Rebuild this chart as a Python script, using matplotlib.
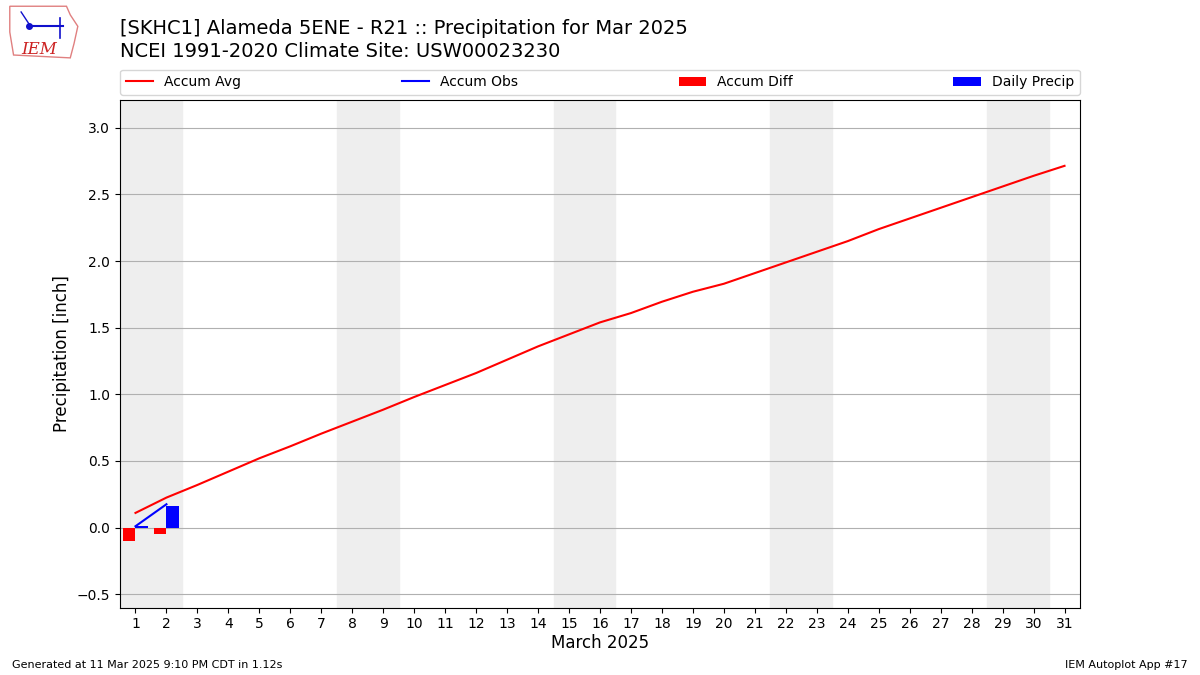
import matplotlib
matplotlib.use("Agg")
import matplotlib.pyplot as plt
from matplotlib.patches import Polygon

# ---------- data ----------
days = list(range(1, 32))
accum_avg = [0.11, 0.225, 0.32, 0.42, 0.52, 0.61, 0.705, 0.795, 0.885, 0.98,
             1.07, 1.16, 1.26, 1.36, 1.45, 1.54, 1.61, 1.695, 1.77, 1.83,
             1.91, 1.99, 2.07, 2.15, 2.24, 2.32, 2.40, 2.48, 2.56, 2.64, 2.715]
obs_days = [1, 2]
daily_precip = [0.01, 0.165]
accum_obs = [0.01, 0.175]
accum_diff = [-0.10, -0.045]
weekends = [(1, 2), (8, 9), (15, 16), (22, 23), (29, 30)]

fig = plt.figure(figsize=(12, 6.75), dpi=100)
ax = fig.add_axes([0.1, 0.1, 0.8, 0.752])

for a, b in weekends:
    ax.axvspan(a - 0.5, b + 0.5, color="#EEEEEE", zorder=0)

ax.plot(days, accum_avg, color="r", label="Accum Avg", zorder=3)
ax.plot(obs_days, accum_obs, color="b", label="Accum Obs", zorder=3)
ax.bar([d - 0.4 for d in obs_days], accum_diff, width=0.4, align="edge",
       color="r", label="Accum Diff", zorder=2)
ax.bar(obs_days, daily_precip, width=0.4, align="edge", color="b",
       label="Daily Precip", zorder=2)

ax.set_xlim(0.5, 31.5)
ax.set_ylim(-0.6, 3.21)
ax.set_xticks(days)
ax.set_yticks([-0.5, 0, 0.5, 1.0, 1.5, 2.0, 2.5, 3.0])
ax.yaxis.grid(True, color="#b0b0b0")
ax.set_axisbelow(True)
ax.set_xlabel("March 2025", fontsize=12, labelpad=2)
ax.set_ylabel("Precipitation [inch]", fontsize=12)

ax.legend(loc="lower left", bbox_to_anchor=(0, 1.01, 1, 0.05), ncol=4,
          mode="expand", borderaxespad=0, fontsize=10)

fig.text(0.1, 0.943, "[SKHC1] Alameda 5ENE - R21 :: Precipitation for Mar 2025",
         fontsize=14, va="bottom")
fig.text(0.1, 0.91, "NCEI 1991-2020 Climate Site: USW00023230",
         fontsize=14, va="bottom")

# rough IEM logo
logo = fig.add_axes([0.005, 0.91, 0.063, 0.085])
logo.axis("off")
logo.set_xlim(0, 1)
logo.set_ylim(0, 1)
logo.add_patch(Polygon([[0.05, 0.95], [0.8, 0.95], [0.85, 0.8], [0.95, 0.6],
                        [0.9, 0.3], [0.85, 0.05], [0.1, 0.1], [0.05, 0.5]],
                       closed=True, fill=False, edgecolor="#e08080", lw=1))
logo.text(0.2, 0.12, "IEM", color="#cc2222", fontsize=12, style="italic",
          family="serif")
logo.plot([0.3, 0.75], [0.6, 0.6], color="#1010cc", lw=1.5)
logo.plot([0.3], [0.6], "o", color="#1010cc", ms=4)
logo.plot([0.2, 0.3], [0.85, 0.65], color="#1010cc", lw=1)
logo.plot([0.72, 0.72], [0.75, 0.4], color="#1010cc", lw=1.2)

fig.text(0.01, 0.01, "Generated at 11 Mar 2025 9:10 PM CDT in 1.12s", fontsize=8)
fig.text(0.99, 0.01, "IEM Autoplot App #17", fontsize=8, ha="right")

fig.savefig("out.png", dpi=100)
